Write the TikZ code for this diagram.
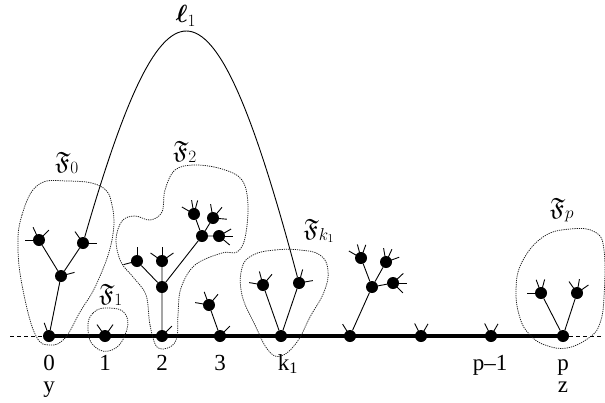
\documentclass[tikz,border=0pt]{standalone}
\usepackage{amsmath,amssymb,bm}
\usepackage{fontspec}
\setmainfont{Liberation Serif}
\begin{document}
\begin{tikzpicture}[x=1pt,y=-1pt,
  dot/.style={circle,fill=black,inner sep=0pt,minimum size=12pt},
  edge/.style={line width=0.9pt},
  stub/.style={line width=0.9pt},
  spine/.style={line width=4pt},
  ext/.style={line width=0.7pt,dash pattern=on 4pt off 3pt},
  blob/.style={line width=0.75pt,dash pattern=on 1.2pt off 1pt,black!90},
  lab/.style={font=\fontsize{23}{26}\selectfont,inner sep=0pt,anchor=base},
  mlab/.style={font=\fontsize{25}{28}\selectfont,inner sep=0pt}]
\useasboundingbox (0,0) rectangle (605,402);
% spine coordinates
\coordinate (S0) at (49,336);
\coordinate (SP) at (563,336);
\draw[spine] (S0) -- (SP);
% blobs
\draw[blob] plot[smooth cycle,tension=0.7] coordinates {(18,250) (22,215) (38,185) (67,181) (100,186) (112,205) (112,240) (97,283) (80,312) (65,338) (50,345) (36,336) (24,295)};
\draw[blob] plot[smooth cycle,tension=0.8] coordinates {(88,330) (93,313) (110,308) (126,315) (125,335) (112,350) (95,347)};
\draw[blob] plot[smooth cycle,tension=0.6] coordinates {(157,347) (150,325) (146,295) (133,277) (121,262) (116,240) (122,221) (135,216) (150,220) (162,212) (165,190) (175,170) (195,165) (222,169) (242,180) (248,205) (245,238) (237,252) (222,253) (195,265) (181,288) (178,315) (177,337) (170,347)};
\draw[blob] plot[smooth cycle,tension=0.7] coordinates {(253,255) (275,250) (300,250) (320,255) (328,270) (324,292) (310,317) (297,342) (281,356) (268,350) (255,325) (242,295) (242,268)};
\draw[blob] plot[smooth cycle,tension=0.7] coordinates {(543,237) (570,229) (595,232) (604,250) (604,297) (600,323) (590,337) (567,348) (545,345) (530,335) (520,318) (516,290) (522,262)};
% spine nodes
\node[dot] (s0) at (49,336) {};
\node[dot] (s1) at (105,336) {};
\node[dot] (s2) at (162,336) {};
\node[dot] (s3) at (220,336) {};
\node[dot] (sk) at (281,336) {};
\node[dot] (s5) at (350,336) {};
\node[dot] (s6) at (421,336) {};
\node[dot] (s7) at (491,336) {};
\node[dot] (sp) at (563,336) {};
\coordinate (L) at (10,336);
\coordinate (R) at (603,336);
\draw[ext] (L) -- (s0);
\draw[ext] (sp) -- (R);
% tree nodes
\node[dot] (a1) at (61,276) {};
\node[dot] (a2) at (39,240) {};
\node[dot] (a3) at (83,243) {};
\node[dot] (b1) at (162,287) {};
\node[dot] (b2) at (162,261) {};
\node[dot] (b3) at (137,261) {};
\node[dot] (b4) at (202,236) {};
\node[dot] (b5) at (194,214) {};
\node[dot] (b6) at (213,218) {};
\node[dot] (b7) at (219,236) {};
\node[dot] (c1) at (209,305) {};
\node[dot] (d1) at (263,285) {};
\node[dot] (d2) at (299,283) {};
\node[dot] (e1) at (372,287) {};
\node[dot] (e2) at (361,258) {};
\node[dot] (e3) at (386,262) {};
\node[dot] (e4) at (393,283) {};
\node[dot] (f1) at (541,293) {};
\node[dot] (f2) at (577,293) {};
% edges
\draw[edge] (s0) -- (a1) (a1) -- (a2) (a1) -- (a3);
\draw[edge] (s2) -- (b1) (b1) -- (b2) (b1) -- (b3) (b1) -- (b4) (b4) -- (b5) (b4) -- (b6) (b4) -- (b7);
\draw[edge] (s3) -- (c1);
\draw[edge] (sk) -- (d1) (sk) -- (d2);
\draw[edge] (s5) -- (e1) (e1) -- (e2) (e1) -- (e3) (e1) -- (e4);
\draw[edge] (sp) -- (f1) (sp) -- (f2);
% stubs (angles in the usual sense, y axis flipped)
\foreach \n/\angs in {s0/{110}, a1/{15}, a2/{180,115,45}, a3/{0,125},
  s1/{125,55}, s2/{45}, b2/{90,145,35}, b3/{90,195}, b5/{150,100,75},
  b6/{100,50,-5}, b7/{30,0,-40}, s3/{45}, c1/{170,110,50},
  d1/{170,105,50}, d2/{10,75}, s5/{122}, e2/{150,105,70}, e3/{100,65,20},
  e4/{43,0,-45}, s6/{117,60}, s7/{117,60}, f1/{180,110,75}, f2/{125,80,35}}{
  \foreach \a in \angs { \draw[stub] (\n.center) -- ++({-1*(\a)}:14); }
}
% long loop
\draw[edge] (a3) .. controls (166,-44) and (212,-44) .. (d2);
% labels
\node[mlab] (ell) at (186,16) {$\bm{\ell}_1$};
\node[mlab] (F0) at (67,163) {$\mathfrak{F}_0$};
\node[mlab] (F1) at (111,295) {$\mathfrak{F}_1$};
\node[mlab] (F2) at (185,152) {$\mathfrak{F}_2$};
\node[mlab] (Fk) at (319,231) {$\mathfrak{F}_{k_1}$};
\node[mlab] (Fp) at (562,210) {$\mathfrak{F}_p$};
\node[lab] (t0) at (49,370) {0};
\node[lab] (ty) at (49,392) {y};
\node[lab] (t1) at (105,370) {1};
\node[lab] (t2) at (162,370) {2};
\node[lab] (t3) at (220,370) {3};
\node[lab] (tk) at (288,370) {k\textsubscript{1}};
\node[lab] (tp1) at (490,370) {p–1};
\node[lab] (tp) at (563,370) {p};
\node[lab] (tz) at (563,392) {z};
\end{tikzpicture}
\end{document}
